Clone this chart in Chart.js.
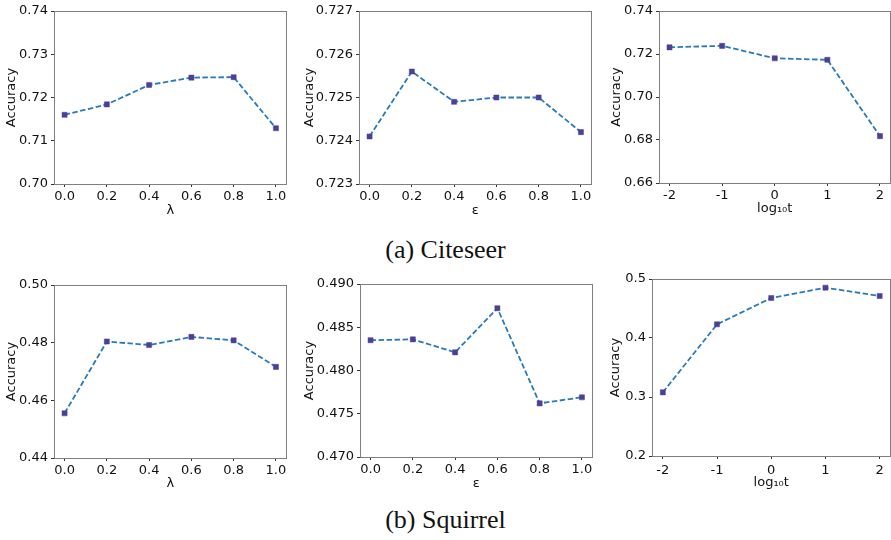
<!DOCTYPE html>
<html>
<head>
<meta charset="utf-8">
<script src="https://cdn.jsdelivr.net/npm/chart.js@4/dist/chart.umd.min.js"></script>
<style>
  html, body { margin: 0; padding: 0; background: #fff; }
  body { width: 891px; height: 540px; position: relative; overflow: hidden; }
  .panel { position: absolute; }
  .caption { position: absolute; width: 891px; left: 0; text-align: center; line-height: 30px;
             font-family: "Liberation Serif", "DejaVu Serif", serif; font-size: 26px; color: #111; }
</style>
</head>
<body>
<div class="panel" id="p1"><canvas id="c1"></canvas></div>
<div class="panel" id="p2"><canvas id="c2"></canvas></div>
<div class="panel" id="p3"><canvas id="c3"></canvas></div>
<div class="panel" id="p4"><canvas id="c4"></canvas></div>
<div class="panel" id="p5"><canvas id="c5"></canvas></div>
<div class="panel" id="p6"><canvas id="c6"></canvas></div>
<div class="caption" style="top:235px">(a) Citeseer</div>
<div class="caption" style="top:505px">(b) Squirrel</div>
<script>
"use strict";

// x values and tick labels
const xFrac = [0.0, 0.2, 0.4, 0.6, 0.8, 1.0];
const xFracLabels = ["0.0", "0.2", "0.4", "0.6", "0.8", "1.0"];
const xLog = [-2, -1, 0, 1, 2];
const xLogLabels = ["-2", "-1", "0", "1", "2"];

// Citeseer
const citeseerLambda = [0.7160, 0.7184, 0.7229, 0.7246, 0.7247, 0.7129];
const citeseerEps = [0.7241, 0.7256, 0.7249, 0.7250, 0.7250, 0.7242];
const citeseerT = [0.7231, 0.7238, 0.7180, 0.7173, 0.6818];

// Squirrel
const squirrelLambda = [0.4555, 0.4804, 0.4792, 0.4820, 0.4808, 0.4716];
const squirrelEps = [0.4835, 0.4836, 0.4821, 0.4872, 0.4762, 0.4769];
const squirrelT = [0.3079, 0.4232, 0.4678, 0.4853, 0.4712];

// y tick values / labels
const yCiteLambda = [0.70, 0.71, 0.72, 0.73, 0.74];
const yCiteLambdaLabels = ["0.70", "0.71", "0.72", "0.73", "0.74"];
const yCiteEps = [0.723, 0.724, 0.725, 0.726, 0.727];
const yCiteEpsLabels = ["0.723", "0.724", "0.725", "0.726", "0.727"];
const yCiteT = [0.66, 0.68, 0.70, 0.72, 0.74];
const yCiteTLabels = ["0.66", "0.68", "0.70", "0.72", "0.74"];
const ySqLambda = [0.44, 0.46, 0.48, 0.50];
const ySqLambdaLabels = ["0.44", "0.46", "0.48", "0.50"];
const ySqEps = [0.470, 0.475, 0.480, 0.485, 0.490];
const ySqEpsLabels = ["0.470", "0.475", "0.480", "0.485", "0.490"];
const ySqT = [0.2, 0.3, 0.4, 0.5];
const ySqTLabels = ["0.2", "0.3", "0.4", "0.5"];

const FONT = "'DejaVu Sans', sans-serif";
const SPINE = "#7f7f7f";
const Y_W = 60, TOP_PAD = 12, RIGHT_PAD = 4, X_H = 34;

// draws the full box around the plot area
const boxPlugin = {
    id: "box",
    afterDraw(chart) {
        const a = chart.chartArea, ctx = chart.ctx;
        ctx.save();
        ctx.strokeStyle = SPINE;
        ctx.lineWidth = 1;
        ctx.strokeRect(Math.round(a.left) + 0.5, Math.round(a.top) + 0.5,
                       Math.round(a.right - a.left) - 1, Math.round(a.bottom - a.top));
        ctx.restore();
    }
};

function makePanel(id, cfg) {
    const wrap = document.getElementById("p" + id);
    const w = Y_W + cfg.plotW + RIGHT_PAD;
    const h = TOP_PAD + cfg.plotH + X_H;
    wrap.style.left = (cfg.left - Y_W) + "px";
    wrap.style.top = (cfg.top - TOP_PAD) + "px";
    wrap.style.width = w + "px";
    wrap.style.height = h + "px";

    const span = cfg.xs[cfg.xs.length - 1] - cfg.xs[0];
    const pts = cfg.xs.map((x, i) => ({ x: x, y: cfg.ys[i] }));

    new Chart(document.getElementById("c" + id), {
        type: "line",
        data: {
            datasets: [{
                data: pts,
                borderColor: "#2a7ab9",
                borderWidth: 1.8,
                borderDash: [5.5, 2.5],
                pointStyle: "rect",
                pointRadius: 3.6,
                pointBorderWidth: 0.5,
                pointBackgroundColor: "#4b3f98",
                pointBorderColor: "#4b3f98",
                tension: 0
            }]
        },
        options: {
            responsive: true,
            maintainAspectRatio: false,
            animation: false,
            layout: { padding: { top: TOP_PAD, right: RIGHT_PAD, left: 0, bottom: 0 } },
            plugins: { legend: { display: false }, tooltip: { enabled: false } },
            scales: {
                x: {
                    type: "linear",
                    min: cfg.xs[0] - span * 0.05,
                    max: cfg.xs[cfg.xs.length - 1] + span * 0.05,
                    afterBuildTicks: s => { s.ticks = cfg.xs.map(v => ({ value: v })); },
                    afterFit: s => { s.height = X_H; },
                    grid: { drawOnChartArea: false, drawTicks: true, tickLength: 3, color: "#333" },
                    border: { display: false },
                    ticks: {
                        padding: cfg.xTickPad, color: "#111", font: { family: FONT, size: 13 },
                        maxRotation: 0, autoSkip: false,
                        callback: (v, i) => cfg.xLabels[i]
                    },
                    title: {
                        display: true, text: cfg.xTitle, color: "#111",
                        font: { family: FONT, size: 13 },
                        padding: { top: 0, bottom: cfg.xTitlePad }
                    }
                },
                y: {
                    min: cfg.yTicks[0],
                    max: cfg.yTicks[cfg.yTicks.length - 1],
                    afterBuildTicks: s => { s.ticks = cfg.yTicks.map(v => ({ value: v })); },
                    afterFit: s => { s.width = Y_W; },
                    grid: { drawOnChartArea: false, drawTicks: true, tickLength: 3, color: "#333" },
                    border: { display: false },
                    ticks: {
                        padding: 3, color: "#111", font: { family: FONT, size: 13 },
                        autoSkip: false,
                        callback: (v, i) => cfg.yLabels[i]
                    },
                    title: {
                        display: true, text: "Accuracy", color: "#111",
                        font: { family: FONT, size: 13 },
                        padding: { top: cfg.yTitlePad, bottom: 0 }
                    }
                }
            }
        },
        plugins: [boxPlugin]
    });
}

const XT_LOG = "log\u2081\u2080t";

makePanel(1, { left: 54, top: 11, plotW: 233, plotH: 173, xs: xFrac, xLabels: xFracLabels, ys: citeseerLambda,
    yTicks: yCiteLambda, yLabels: yCiteLambdaLabels, xTitle: "\u03bb", xTitlePad: 0, xTickPad: 2, yTitlePad: 10 });
makePanel(2, { left: 359, top: 11, plotW: 233, plotH: 173, xs: xFrac, xLabels: xFracLabels, ys: citeseerEps,
    yTicks: yCiteEps, yLabels: yCiteEpsLabels, xTitle: "\u03b5", xTitlePad: 0, xTickPad: 2, yTitlePad: 3 });
makePanel(3, { left: 659, top: 11, plotW: 232, plotH: 172, xs: xLog, xLabels: xLogLabels, ys: citeseerT,
    yTicks: yCiteT, yLabels: yCiteTLabels, xTitle: XT_LOG, xTitlePad: 1, xTickPad: 2, yTitlePad: 10 });
makePanel(4, { left: 54, top: 285, plotW: 233, plotH: 173, xs: xFrac, xLabels: xFracLabels, ys: squirrelLambda,
    yTicks: ySqLambda, yLabels: ySqLambdaLabels, xTitle: "\u03bb", xTitlePad: 1, xTickPad: 2, yTitlePad: 10 });
makePanel(5, { left: 360, top: 284, plotW: 233, plotH: 173, xs: xFrac, xLabels: xFracLabels, ys: squirrelEps,
    yTicks: ySqEps, yLabels: ySqEpsLabels, xTitle: "\u03b5", xTitlePad: 0, xTickPad: 2, yTitlePad: 2 });
makePanel(6, { left: 652, top: 279, plotW: 239, plotH: 177, xs: xLog, xLabels: xLogLabels, ys: squirrelT,
    yTicks: ySqT, yLabels: ySqTLabels, xTitle: XT_LOG, xTitlePad: 0, xTickPad: 4, yTitlePad: 16 });
</script>
</body>
</html>
